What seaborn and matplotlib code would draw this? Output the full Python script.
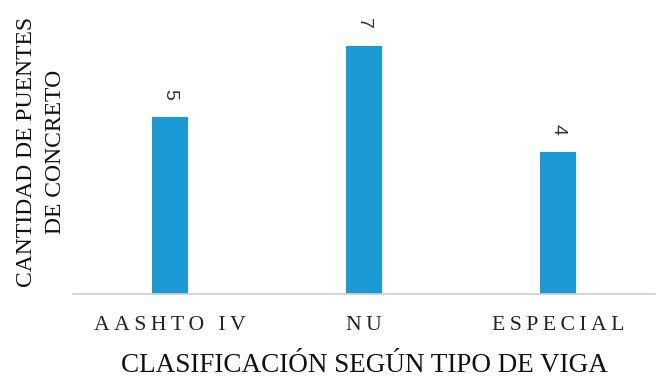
import matplotlib
matplotlib.use("Agg")
import matplotlib.pyplot as plt
import seaborn as sns
import pandas as pd

categories = ["AASHTO IV", "NU", "ESPECIAL"]
values = [5, 7, 4]
value_labels = ["5", "7", "4"]

sns.set_theme(style="white")
plt.rcParams["font.family"] = ["Liberation Serif", "DejaVu Serif"]

df = pd.DataFrame({"cat": categories, "val": values})

fig = plt.figure(figsize=(6.65, 3.8), dpi=100)
ax = fig.add_axes([73 / 665, 86 / 380, 582 / 665, 284 / 380])
sns.barplot(data=df, x="cat", y="val", color="#1B9AD6", width=0.185,
            saturation=1, ax=ax, edgecolor="none")

ax.set_xlim(-0.5, 2.5)
ax.set_ylim(0, 8)
ax.set_yticks([])
for s in ["top", "right", "left"]:
    ax.spines[s].set_visible(False)
ax.spines["bottom"].set_color("#d0d0d0")
ax.spines["bottom"].set_linewidth(1.2)
ax.tick_params(axis="x", length=0, pad=16)

spaced = ["\u2009".join(list(c)) for c in categories]
ax.set_xticks(range(len(categories)))
ax.set_xticklabels(spaced, fontsize=15.7, color="#222222")

for i, (v, lab) in enumerate(zip(values, value_labels)):
    ax.annotate(lab, (i, v), xytext=(0, 12), textcoords="offset points",
                ha="center", va="bottom", rotation=270, fontsize=14,
                family=["Liberation Sans", "DejaVu Sans"], color="#333333")

ax.set_xlabel("CLASIFICACIÓN SEGÚN TIPO DE VIGA", fontsize=19.5,
              color="#111111", labelpad=13)
ax.set_ylabel("CANTIDAD DE PUENTES\nDE CONCRETO", fontsize=17,
              color="#111111", linespacing=1.5)
ax.yaxis.set_label_coords(-0.012, 0.5)

fig.savefig("out.png", dpi=100, facecolor="white")
